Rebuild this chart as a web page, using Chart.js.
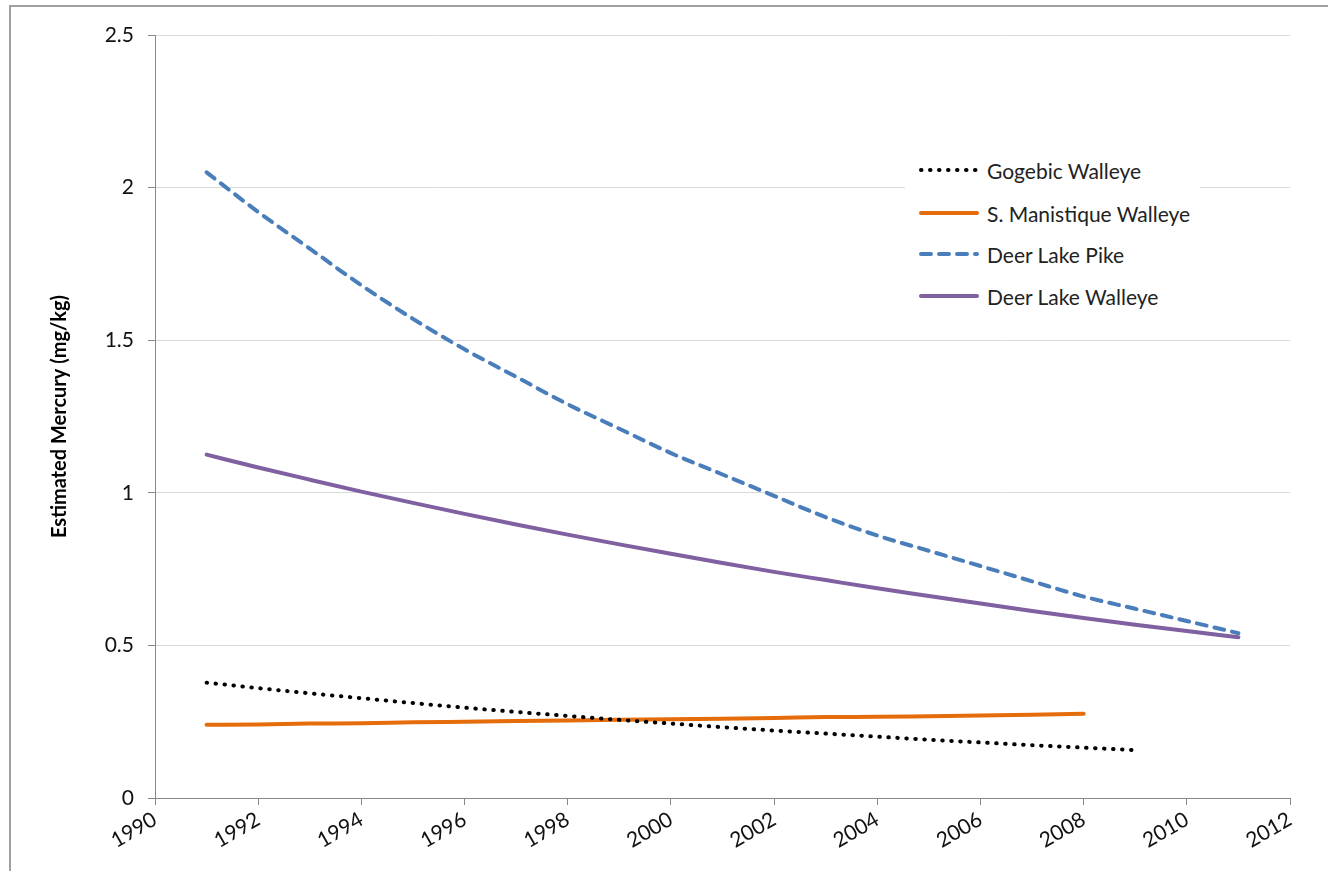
<!DOCTYPE html>
<html>
<head>
<meta charset="utf-8">
<script src="https://cdn.jsdelivr.net/npm/chart.js@4.4.0/dist/chart.umd.min.js"></script>
<style>
  html, body { margin: 0; padding: 0; background: #fff; }
  #wrap { position: relative; width: 1328px; height: 871px; }
  #frame { position: absolute; left: 9px; top: 5px; right: -5px; bottom: -5px; border-left: 2px solid #a0a0a0; border-top: 2px solid #a0a0a0; pointer-events: none; }
  #legend { position: absolute; left: 905px; top: 150px; width: 295px; height: 165px; background: #fff; font-family: Lato, "Open Sans", sans-serif; font-size: 21px; color: #222; }
  .item { position: absolute; left: 12px; height: 26px; display: flex; align-items: center; }
  .item svg { margin-right: 4px; }
</style>
</head>
<body>
<div id="wrap">
  <canvas id="mercuryChart" width="1328" height="871"></canvas>
  <div id="frame"></div>
  <div id="legend"></div>
</div>
<script>
// values
let seriesNames = ["Gogebic Walleye", "S. Manistique Walleye", "Deer Lake Pike", "Deer Lake Walleye"];

let gogebicYears = [1991, 1992, 1993, 1994, 1995, 1996, 1997, 1998, 1999, 2000, 2001, 2002, 2003, 2004, 2005, 2006, 2007, 2008, 2009];
let gogebicValues = [0.378, 0.360, 0.343, 0.327, 0.311, 0.296, 0.282, 0.269, 0.256, 0.244, 0.232, 0.221, 0.211, 0.201, 0.191, 0.182, 0.173, 0.165, 0.157];

let manistiqueYears = [1991, 1992, 1993, 1994, 1995, 1996, 1997, 1998, 1999, 2000, 2001, 2002, 2003, 2004, 2005, 2006, 2007, 2008];
let manistiqueValues = [0.240, 0.241, 0.244, 0.245, 0.248, 0.250, 0.252, 0.254, 0.256, 0.258, 0.260, 0.262, 0.265, 0.266, 0.268, 0.270, 0.273, 0.276];

let deerYears = [1991, 1992, 1993, 1994, 1995, 1996, 1997, 1998, 1999, 2000, 2001, 2002, 2003, 2004, 2005, 2006, 2007, 2008, 2009, 2010, 2011];
let pikeValues = [2.05, 1.92, 1.80, 1.68, 1.57, 1.47, 1.38, 1.29, 1.21, 1.13, 1.06, 0.99, 0.92, 0.86, 0.81, 0.76, 0.71, 0.66, 0.62, 0.58, 0.54];
let deerWalleyeValues = [1.125, 1.083, 1.043, 1.004, 0.967, 0.931, 0.896, 0.863, 0.831, 0.800, 0.770, 0.741, 0.714, 0.687, 0.662, 0.637, 0.613, 0.590, 0.568, 0.547, 0.527];

let xTicks = [1990, 1992, 1994, 1996, 1998, 2000, 2002, 2004, 2006, 2008, 2010, 2012];
let yTicks = [0, 0.5, 1, 1.5, 2, 2.5];

let yTitle = "Estimated Mercury (mg/kg)";

function pairs(xs, ys) {
    let out = [];
    for (let i = 0; i < xs.length; i++) {
        out.push({x: xs[i], y: ys[i]});
    }
    return out;
}

let styles = [
    {color: "#000000", width: 4, dash: [0.5, 8.5], cap: 'round'},
    {color: "#E46C0A", width: 4, dash: [], cap: 'round'},
    {color: "#4A7EBB", width: 4, dash: [10, 8], cap: 'round'},
    {color: "#7F60A0", width: 4, dash: [], cap: 'round'}
];
let seriesData = [
    pairs(gogebicYears, gogebicValues),
    pairs(manistiqueYears, manistiqueValues),
    pairs(deerYears, pikeValues),
    pairs(deerYears, deerWalleyeValues)
];

let datasets = [];
for (let i = 0; i < seriesNames.length; i++) {
    datasets.push({
        label: seriesNames[i],
        data: seriesData[i],
        borderColor: styles[i].color,
        backgroundColor: styles[i].color,
        borderWidth: styles[i].width,
        borderDash: styles[i].dash,
        borderCapStyle: styles[i].cap,
        borderJoinStyle: 'round',
        fill: false,
        tension: 0.4,
        cubicInterpolationMode: 'monotone',
        pointRadius: 0,
        pointHitRadius: 0
    });
}

let fontFamily = "Lato, 'Open Sans', sans-serif";

let ctx = document.getElementById('mercuryChart').getContext('2d');
let mercuryChart = new Chart(ctx, {
    type: 'line',
    data: {datasets: datasets},
    options: {
        responsive: false,
        animation: false,
        layout: {padding: {left: 0, top: 35, right: 38, bottom: 0}},
        plugins: {
            legend: {display: false},
            tooltip: {enabled: false}
        },
        scales: {
            x: {
                type: 'linear',
                min: 1990,
                max: 2012,
                afterBuildTicks: function(scale) {
                    scale.ticks = xTicks.map(function(v) { return {value: v}; });
                },
                afterFit: function(scale) { scale.height = 73; },
                ticks: {
                    color: '#111',
                    font: {family: fontFamily, size: 21},
                    minRotation: 30,
                    maxRotation: 30,
                    padding: 2,
                    autoSkip: false,
                    callback: function(v) { return String(v); }
                },
                grid: {drawOnChartArea: false, tickColor: '#888', tickLength: 7, lineWidth: 1},
                border: {color: '#888', width: 1}
            },
            y: {
                min: 0,
                max: 2.5,
                afterBuildTicks: function(scale) {
                    scale.ticks = yTicks.map(function(v) { return {value: v}; });
                },
                afterFit: function(scale) { scale.width = 155; },
                ticks: {
                    color: '#111',
                    font: {family: fontFamily, size: 21},
                    padding: 14,
                    callback: function(v) { return String(v); }
                },
                title: {
                    display: true,
                    text: yTitle,
                    color: '#000',
                    font: {family: fontFamily, size: 20, weight: 'bold'},
                    padding: {top: 48, bottom: 0}
                },
                grid: {color: '#d9d9d9', tickColor: '#888', tickLength: 7, lineWidth: 1},
                border: {color: '#888', width: 1}
            }
        }
    }
});

// legend as html, built from the series names and styles
let legendDiv = document.getElementById('legend');
let legendTops = [7, 50, 91, 133];
for (let i = 0; i < seriesNames.length; i++) {
    let item = document.createElement('div');
    item.className = 'item';
    item.style.top = legendTops[i] + 'px';
    let dash = styles[i].dash.length ? 'stroke-dasharray="' + styles[i].dash.join(' ') + '"' : '';
    item.innerHTML = '<svg width="66" height="12"><line x1="4" y1="6" x2="60" y2="6" stroke="' + styles[i].color +
        '" stroke-width="' + styles[i].width + '" stroke-linecap="round" ' + dash + '/></svg><span>' + seriesNames[i] + '</span>';
    legendDiv.appendChild(item);
}
</script>
</body>
</html>
